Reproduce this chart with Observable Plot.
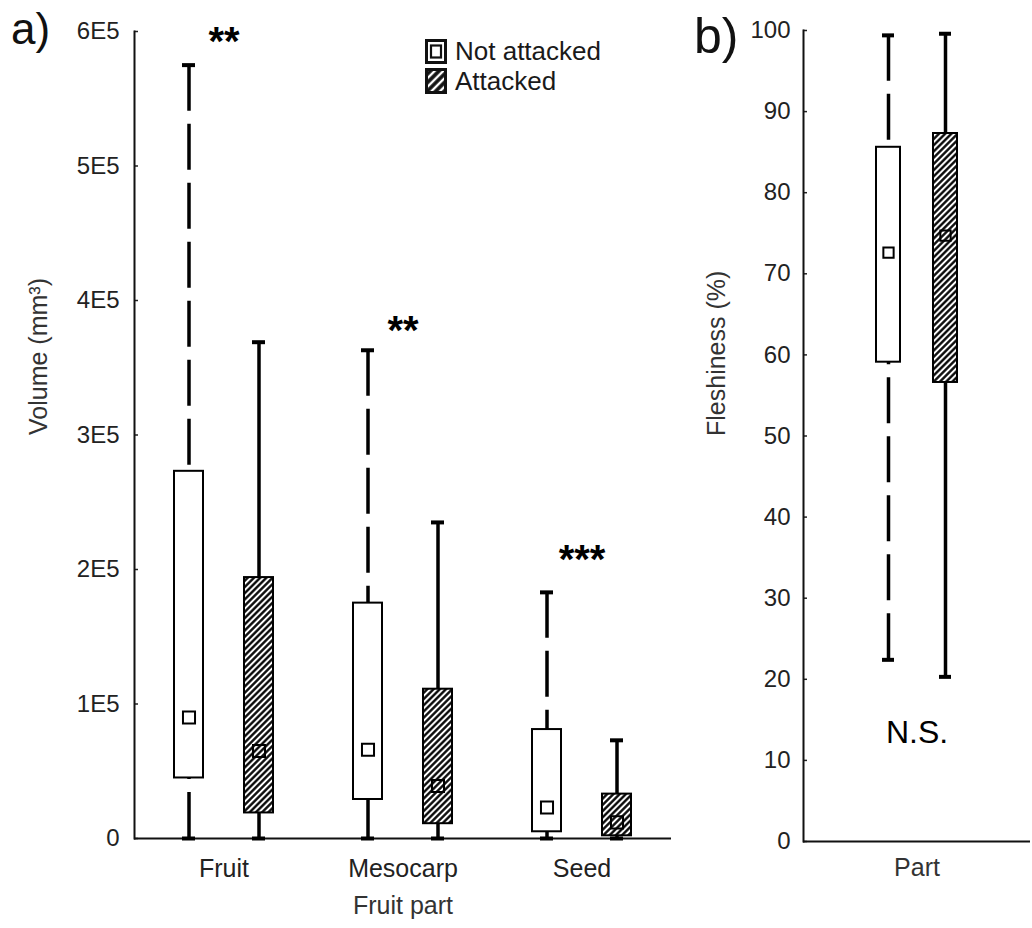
<!DOCTYPE html>
<html><head><meta charset="utf-8">
<script src="https://cdn.jsdelivr.net/npm/d3@7"></script>
<script src="https://cdn.jsdelivr.net/npm/@observablehq/plot@0.6"></script>
<style>
html,body{margin:0;padding:0;background:#fff;}
#wrap{position:relative;width:1032px;height:928px;overflow:hidden;font-family:"Liberation Sans",Arial,Helvetica,sans-serif;}
.panel{position:absolute;top:0;}
.tag{position:absolute;line-height:1;color:#111;}
.leg{position:absolute;left:425px;font-size:26px;line-height:1;color:#1a1a1a;display:flex;align-items:center;white-space:nowrap;}
.leg svg{margin-right:8px;display:block;}
</style></head>
<body><div id="wrap"></div>
<script>
// ---------- data ----------
const parts = ["Fruit", "Mesocarp", "Seed"];
const groups = ["Not attacked", "Attacked"];

// panel a: volume (mm3), one entry per box
const boxPart  = ["Fruit", "Fruit", "Mesocarp", "Mesocarp", "Seed", "Seed"];
const boxGroup = ["Not attacked", "Attacked", "Not attacked", "Attacked", "Not attacked", "Attacked"];
const volMin  = [0, 0, 0, 0, 0, 0];
const volQ1   = [45000, 19000, 29000, 11000, 5000, 2000];
const volMean = [90000, 65000, 66000, 39000, 23000, 12000];
const volQ3   = [273000, 194000, 175000, 111000, 81000, 33000];
const volMax  = [575000, 369000, 363000, 235000, 183000, 73000];

const yTicksA = [0, 100000, 200000, 300000, 400000, 500000, 600000];
const yTickLabelsA = ["0", "1E5", "2E5", "3E5", "4E5", "5E5", "6E5"];

const sigPart  = ["Fruit", "Mesocarp", "Seed"];
const sigLabel = ["**", "**", "***"];
const sigY     = [600000, 385000, 215000];

// panel b: fleshiness (%)
const fleshGroup = ["Not attacked", "Attacked"];
const fleshMin  = [22.4, 20.3];
const fleshQ1   = [59.1, 56.6];
const fleshMean = [72.6, 74.7];
const fleshQ3   = [85.6, 87.3];
const fleshMax  = [99.4, 99.6];
const yTicksB = [0, 10, 20, 30, 40, 50, 60, 70, 80, 90, 100];
const nsLabel = "N.S.";
const nsY = 15;

// ---------- helpers ----------
const FONT = '"Liberation Sans", Arial, Helvetica, sans-serif';
const NS = "http://www.w3.org/2000/svg";
function addHatch(svg, id, bg, fg, size, sw) {
  const defs = document.createElementNS(NS, "defs");
  const pat = document.createElementNS(NS, "pattern");
  pat.setAttribute("id", id);
  pat.setAttribute("patternUnits", "userSpaceOnUse");
  pat.setAttribute("width", size);
  pat.setAttribute("height", size);
  pat.setAttribute("patternTransform", "rotate(45)");
  const r = document.createElementNS(NS, "rect");
  r.setAttribute("width", size); r.setAttribute("height", size); r.setAttribute("fill", bg);
  const l = document.createElementNS(NS, "line");
  l.setAttribute("x1", size / 2); l.setAttribute("x2", size / 2);
  l.setAttribute("y1", -1); l.setAttribute("y2", size + 1);
  l.setAttribute("stroke", fg); l.setAttribute("stroke-width", sw);
  pat.appendChild(r); pat.appendChild(l); defs.appendChild(pat);
  svg.insertBefore(defs, svg.firstChild);
}

function boxMarks(notRows, attRows, faceted, hatchId, capInset, meanR) {
  const f = faceted ? {fx: "part"} : {};
  const all = [...notRows, ...attRows];
  const WH = 3.5, dash = "46,13";
  return [
    Plot.ruleX(notRows, {...f, x: "group", y1: "max", y2: "q3", stroke: "#000", strokeWidth: WH, strokeDasharray: dash}),
    Plot.ruleX(notRows, {...f, x: "group", y1: "min", y2: "q1", stroke: "#000", strokeWidth: WH, strokeDasharray: dash}),
    Plot.ruleX(attRows, {...f, x: "group", y1: "max", y2: "q3", stroke: "#000", strokeWidth: WH}),
    Plot.ruleX(attRows, {...f, x: "group", y1: "min", y2: "q1", stroke: "#000", strokeWidth: WH}),
    Plot.tickY(all, {...f, x: "group", y: "max", stroke: "#000", strokeWidth: 4, insetLeft: capInset, insetRight: capInset}),
    Plot.tickY(all, {...f, x: "group", y: "min", stroke: "#000", strokeWidth: 4, insetLeft: capInset, insetRight: capInset}),
    Plot.barY(notRows, {...f, x: "group", y1: "q1", y2: "q3", fill: "white", stroke: "#000", strokeWidth: 2}),
    Plot.barY(attRows, {...f, x: "group", y1: "q1", y2: "q3", fill: `url(#${hatchId})`, stroke: "#000", strokeWidth: 2}),
    Plot.dot(all, {...f, x: "group", y: "mean", symbol: "square", r: meanR, fill: "none", stroke: "#000", strokeWidth: 2})
  ];
}

const wrap = document.getElementById("wrap");

// ---------- panel a ----------
const rowsA = boxPart.map((p, i) => ({part: p, group: boxGroup[i], min: volMin[i], q1: volQ1[i], mean: volMean[i], q3: volQ3[i], max: volMax[i]}));
const notA = rowsA.filter(d => d.group === groups[0]);
const attA = rowsA.filter(d => d.group === groups[1]);
const sigRows = sigPart.map((p, i) => ({part: p, y: sigY[i], label: sigLabel[i]}));

const plotA = Plot.plot({
  width: 690, height: 928,
  marginLeft: 133, marginRight: 18, marginTop: 31, marginBottom: 90,
  style: {fontFamily: FONT, background: "transparent", color: "#222", overflow: "visible"},
  fx: {domain: parts, padding: 0},
  x: {domain: groups, paddingInner: 0.592, paddingOuter: 0.5635, axis: null},
  y: {domain: [0, 600000]},
  marks: [
    Plot.axisY({ticks: yTicksA, tickFormat: d => yTickLabelsA[yTicksA.indexOf(d)], tickSize: -4, tickPadding: 19, fontSize: 24, strokeWidth: 1.5, label: null}),
    Plot.axisFx({anchor: "bottom", tickSize: 0, tickPadding: 21, fontSize: 25, label: null}),
    Plot.frame({anchor: "left", facetAnchor: "left", strokeWidth: 2, stroke: "#111"}),
    Plot.ruleY([0], {strokeWidth: 2, stroke: "#111"}),
    ...boxMarks(notA, attA, true, "hatchA", 8, 6.8),
    Plot.text(sigRows, {fx: "part", y: "y", text: "label", fontSize: 40, fontWeight: "bold", dy: 11, fill: "#000"}),
    Plot.text(["Volume (mm³)"], {frameAnchor: "left", facetAnchor: "left", rotate: -90, dx: -96, fontSize: 25, fill: "#333"}),
    Plot.text(["Fruit part"], {facet: "super", frameAnchor: "bottom", lineAnchor: "top", dy: 58, fontSize: 25, fill: "#333"})
  ]
});
addHatch(plotA, "hatchA", "white", "#000", 4.4, 2.3);
plotA.classList.add("panel");
plotA.style.left = "0px";
wrap.appendChild(plotA);

// ---------- panel b ----------
const rowsB = fleshGroup.map((g, i) => ({group: g, min: fleshMin[i], q1: fleshQ1[i], mean: fleshMean[i], q3: fleshQ3[i], max: fleshMax[i]}));
const notB = rowsB.filter(d => d.group === groups[0]);
const attB = rowsB.filter(d => d.group === groups[1]);

const plotB = Plot.plot({
  width: 342, height: 928,
  marginLeft: 113, marginRight: 2, marginTop: 30, marginBottom: 87,
  style: {fontFamily: FONT, background: "transparent", color: "#222", overflow: "visible"},
  x: {domain: groups, paddingInner: 0.579, paddingOuter: 1.263, axis: null},
  y: {domain: [0, 100]},
  marks: [
    Plot.axisY({ticks: yTicksB, tickFormat: d => String(d), tickSize: -4, tickPadding: 17, fontSize: 24, strokeWidth: 1.5, label: null}),
    Plot.frame({anchor: "left", strokeWidth: 2, stroke: "#111"}),
    Plot.ruleY([0], {strokeWidth: 2, stroke: "#111"}),
    ...boxMarks(notB, attB, false, "hatchB", 6, 5.8),
    Plot.text([{y: nsY, t: nsLabel}], {y: "y", text: "t", lineAnchor: "top", fontSize: 32, fill: "#000"}),
    Plot.text(["Part"], {frameAnchor: "bottom", lineAnchor: "top", dy: 17, fontSize: 25, fill: "#333"}),
    Plot.text(["Fleshiness (%)"], {frameAnchor: "left", rotate: -90, dx: -87, fontSize: 25, fill: "#333"})
  ]
});
addHatch(plotB, "hatchB", "white", "#000", 4.4, 2.3);
plotB.classList.add("panel");
plotB.style.left = "690px";
wrap.appendChild(plotB);

// ---------- panel tags ----------
function tag(txt, left, top, size) {
  const d = document.createElement("div");
  d.className = "tag"; d.textContent = txt;
  d.style.left = left + "px"; d.style.top = top + "px"; d.style.fontSize = size + "px";
  wrap.appendChild(d);
}
tag("a)", 11, 7, 44);
tag("b)", 694, 11, 50);

// ---------- legend ----------
function legendRow(top, label, swatchSvg) {
  const d = document.createElement("div");
  d.className = "leg"; d.style.top = top + "px";
  d.innerHTML = swatchSvg + `<span>${label}</span>`;
  wrap.appendChild(d);
}
legendRow(38, groups[0],
  `<svg width="22" height="25"><rect x="1.5" y="1.5" width="19" height="22" fill="white" stroke="#111" stroke-width="3"/><rect x="6" y="6.5" width="10" height="12" fill="white" stroke="#111" stroke-width="2.2"/></svg>`);
legendRow(68, groups[1],
  `<svg width="22" height="26"><defs><pattern id="legHatch" patternUnits="userSpaceOnUse" width="6" height="6" patternTransform="rotate(45)"><rect width="6" height="6" fill="#111"/><line x1="3" y1="-1" x2="3" y2="7" stroke="white" stroke-width="2.4"/></pattern></defs><rect x="1.5" y="1.5" width="19" height="23" fill="url(#legHatch)" stroke="#111" stroke-width="3"/></svg>`);
</script></body></html>
